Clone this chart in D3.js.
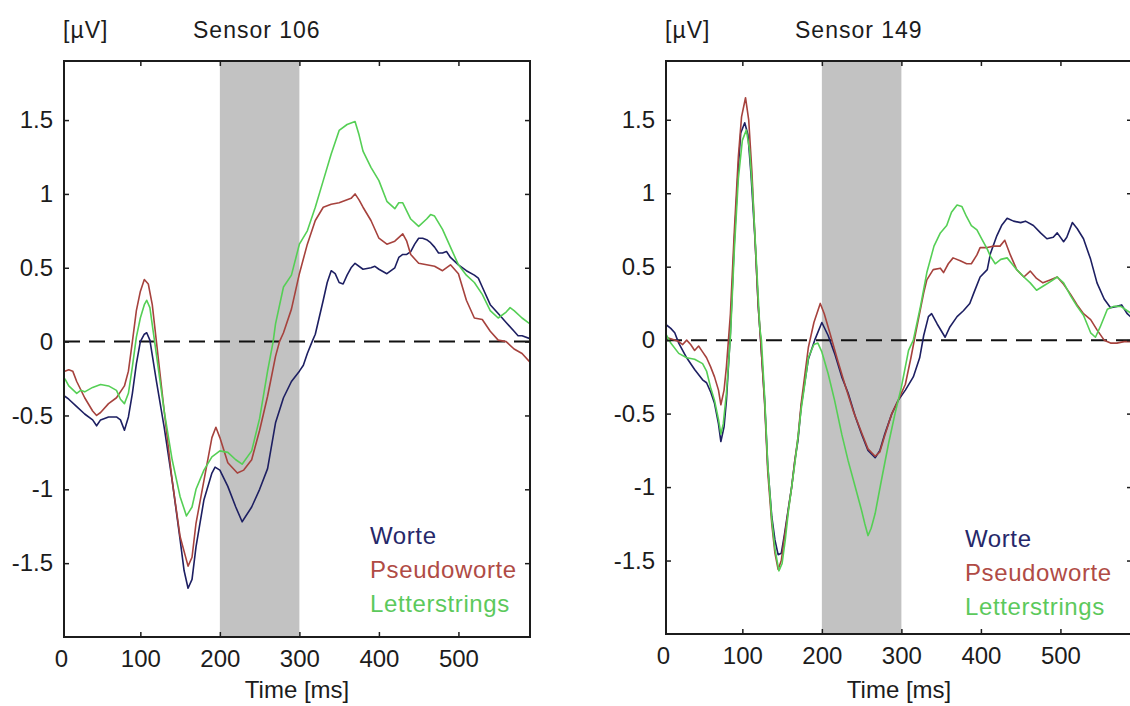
<!DOCTYPE html>
<html>
<head>
<meta charset="utf-8">
<script src="https://cdnjs.cloudflare.com/ajax/libs/d3/7.8.5/d3.min.js"></script>
<style>
  body { margin: 0; background: #fff; }
  svg { display: block; font-family: "Liberation Sans", Arial, sans-serif; }
</style>
</head>
<body>
<div id="chart"></div>
<script>
// tick labels and the shaded time window (ms)
var xTicks = [0, 100, 200, 300, 400, 500];
var yTicks = [-1.5, -1, -0.5, 0, 0.5, 1, 1.5];
var shadeWindow = [200, 300];
var conditions = ["Worte", "Pseudoworte", "Letterstrings"];

// Sensor 106: [time ms, amplitude µV]
var worte106 = [[5,-0.37],[10,-0.39],[20,-0.44],[30,-0.49],[40,-0.53],[45,-0.57],[50,-0.53],[60,-0.51],[70,-0.51],[75,-0.53],[80,-0.6],[85,-0.51],[90,-0.35],[95,-0.15],[100,0.0],[105,0.05],[108,0.06],[112,0.01],[120,-0.26],[130,-0.58],[140,-0.94],[150,-1.34],[155,-1.55],[160,-1.67],[165,-1.61],[170,-1.39],[180,-1.07],[190,-0.89],[194,-0.85],[200,-0.87],[210,-0.98],[220,-1.12],[228,-1.22],[240,-1.12],[250,-1.0],[260,-0.86],[270,-0.55],[280,-0.38],[290,-0.27],[300,-0.2],[305,-0.16],[310,-0.08],[316,0.0],[320,0.05],[330,0.28],[335,0.4],[340,0.48],[345,0.46],[350,0.4],[355,0.39],[360,0.45],[365,0.5],[370,0.53],[380,0.49],[390,0.5],[395,0.51],[400,0.49],[410,0.46],[420,0.5],[425,0.57],[430,0.59],[435,0.59],[440,0.61],[445,0.66],[450,0.7],[455,0.7],[460,0.69],[465,0.67],[470,0.64],[475,0.6],[480,0.6],[485,0.61],[490,0.57],[500,0.52],[510,0.48],[520,0.45],[525,0.43],[530,0.37],[540,0.25],[550,0.19],[560,0.13],[570,0.07],[575,0.04],[580,0.04],[590,0.02]];
var pseudo106 = [[5,-0.2],[10,-0.19],[15,-0.2],[20,-0.27],[30,-0.38],[40,-0.47],[45,-0.5],[50,-0.48],[60,-0.42],[70,-0.38],[80,-0.3],[85,-0.2],[90,0.0],[95,0.21],[100,0.34],[105,0.42],[110,0.39],[115,0.25],[120,0.01],[130,-0.47],[140,-0.94],[150,-1.32],[160,-1.52],[165,-1.46],[170,-1.23],[180,-0.94],[190,-0.65],[195,-0.58],[200,-0.65],[210,-0.82],[222,-0.89],[230,-0.87],[240,-0.8],[250,-0.6],[260,-0.37],[270,-0.1],[275,0.0],[280,0.06],[290,0.22],[300,0.46],[310,0.66],[320,0.82],[330,0.91],[340,0.93],[350,0.94],[360,0.96],[365,0.97],[370,1.0],[375,0.96],[380,0.91],[390,0.82],[400,0.7],[410,0.66],[420,0.68],[430,0.73],[435,0.68],[440,0.59],[450,0.53],[460,0.52],[470,0.51],[480,0.48],[490,0.52],[500,0.46],[510,0.28],[520,0.16],[530,0.15],[540,0.07],[550,0.01],[560,0.0],[570,-0.05],[580,-0.08],[590,-0.14]];
var letter106 = [[5,-0.25],[10,-0.3],[20,-0.35],[25,-0.33],[30,-0.34],[40,-0.31],[50,-0.29],[60,-0.3],[70,-0.33],[75,-0.39],[80,-0.42],[85,-0.35],[90,-0.17],[95,0.03],[100,0.16],[105,0.25],[108,0.28],[112,0.23],[120,-0.08],[130,-0.47],[140,-0.8],[150,-1.05],[158,-1.18],[165,-1.12],[170,-1.0],[180,-0.87],[190,-0.78],[200,-0.74],[210,-0.75],[220,-0.8],[228,-0.83],[240,-0.74],[250,-0.52],[260,-0.2],[267,0.0],[270,0.12],[280,0.37],[290,0.45],[300,0.66],[310,0.75],[320,0.91],[330,1.09],[340,1.27],[350,1.43],[360,1.47],[370,1.49],[375,1.4],[380,1.29],[390,1.18],[400,1.09],[410,0.95],[420,0.9],[425,0.94],[430,0.94],[440,0.83],[450,0.78],[460,0.83],[465,0.86],[470,0.85],[480,0.76],[490,0.64],[500,0.52],[510,0.45],[520,0.4],[530,0.32],[540,0.21],[550,0.16],[560,0.2],[565,0.23],[570,0.21],[580,0.16],[590,0.12]];

// Sensor 149
var worte149 = [[3,0.11],[10,0.08],[15,0.05],[20,-0.02],[30,-0.12],[40,-0.2],[50,-0.27],[55,-0.29],[60,-0.35],[65,-0.43],[70,-0.57],[73,-0.69],[77,-0.59],[80,-0.41],[85,0.05],[90,0.68],[95,1.18],[98,1.41],[103,1.48],[107,1.4],[111,1.12],[116,0.68],[120,0.23],[123,0.0],[128,-0.41],[132,-0.86],[137,-1.2],[141,-1.36],[145,-1.46],[149,-1.45],[153,-1.32],[158,-1.14],[162,-1.0],[166,-0.82],[170,-0.68],[174,-0.45],[179,-0.27],[183,-0.13],[191,0.0],[200,0.12],[208,0.03],[216,-0.09],[225,-0.25],[233,-0.36],[242,-0.52],[250,-0.64],[258,-0.75],[267,-0.8],[273,-0.75],[279,-0.64],[288,-0.5],[296,-0.41],[305,-0.34],[315,-0.25],[323,-0.12],[328,0.03],[334,0.16],[338,0.18],[345,0.11],[355,0.02],[361,0.09],[370,0.16],[378,0.2],[386,0.25],[391,0.32],[399,0.43],[408,0.48],[412,0.59],[420,0.71],[426,0.78],[433,0.83],[441,0.81],[450,0.8],[456,0.81],[466,0.78],[475,0.73],[483,0.69],[491,0.7],[496,0.73],[504,0.67],[508,0.7],[515,0.8],[521,0.76],[529,0.69],[538,0.55],[546,0.39],[555,0.28],[563,0.22],[571,0.23],[577,0.24],[584,0.18],[590,0.15]];
var pseudo149 = [[3,0.02],[10,0.01],[20,-0.01],[25,-0.03],[30,0.0],[35,-0.03],[40,-0.07],[45,-0.04],[50,-0.08],[55,-0.12],[60,-0.18],[65,-0.25],[70,-0.34],[73,-0.44],[77,-0.34],[80,-0.18],[85,0.18],[90,0.75],[95,1.25],[99,1.52],[104,1.65],[108,1.5],[112,1.15],[116,0.68],[120,0.23],[123,0.0],[128,-0.43],[132,-0.9],[137,-1.25],[141,-1.45],[145,-1.56],[149,-1.5],[153,-1.34],[158,-1.15],[162,-1.0],[166,-0.82],[170,-0.66],[174,-0.43],[179,-0.22],[183,-0.05],[190,0.12],[198,0.25],[203,0.18],[210,0.05],[220,-0.14],[230,-0.32],[240,-0.49],[250,-0.63],[258,-0.74],[267,-0.79],[273,-0.76],[279,-0.65],[288,-0.5],[296,-0.41],[305,-0.3],[312,-0.12],[318,0.05],[328,0.32],[332,0.41],[340,0.48],[349,0.49],[353,0.46],[359,0.52],[365,0.56],[374,0.54],[382,0.52],[388,0.52],[395,0.58],[399,0.63],[408,0.63],[416,0.64],[424,0.64],[430,0.68],[437,0.58],[445,0.48],[454,0.43],[462,0.47],[470,0.42],[478,0.39],[487,0.41],[496,0.43],[504,0.38],[513,0.31],[521,0.24],[529,0.18],[538,0.14],[546,0.07],[555,0.0],[563,-0.02],[571,-0.02],[580,-0.01],[590,-0.01]];
var letter149 = [[3,0.05],[10,-0.02],[20,-0.09],[30,-0.12],[40,-0.13],[50,-0.16],[55,-0.21],[60,-0.32],[65,-0.41],[70,-0.54],[73,-0.64],[76,-0.57],[80,-0.36],[85,0.02],[90,0.62],[95,1.1],[100,1.36],[105,1.43],[109,1.3],[113,1.0],[118,0.5],[122,0.08],[124,0.0],[128,-0.38],[132,-0.85],[137,-1.22],[141,-1.42],[146,-1.57],[150,-1.52],[154,-1.36],[158,-1.16],[162,-1.0],[166,-0.84],[170,-0.66],[174,-0.47],[179,-0.28],[183,-0.12],[190,-0.03],[195,-0.02],[200,-0.08],[208,-0.23],[216,-0.41],[225,-0.64],[233,-0.82],[242,-1.0],[250,-1.16],[254,-1.25],[258,-1.33],[262,-1.28],[267,-1.18],[275,-0.95],[284,-0.7],[292,-0.5],[300,-0.32],[309,-0.07],[315,0.0],[324,0.23],[332,0.46],[341,0.64],[349,0.73],[357,0.78],[363,0.87],[370,0.92],[376,0.91],[382,0.84],[388,0.78],[395,0.75],[401,0.69],[408,0.62],[412,0.57],[418,0.52],[425,0.55],[433,0.56],[439,0.52],[445,0.48],[454,0.43],[462,0.39],[470,0.34],[479,0.37],[488,0.4],[496,0.43],[504,0.39],[513,0.3],[521,0.23],[529,0.17],[538,0.05],[544,0.02],[550,0.09],[559,0.21],[567,0.23],[576,0.23],[584,0.2],[590,0.18]];

var lineColors = ["#1d1f62", "#a6423d", "#55cf55"];
var textColors = ["#26286a", "#b04b45", "#5cc95c"];

var svgWidth = 1130;
var svgHeight = 706;

var panels = [
  { id: "p106", title: "Sensor 106", series: [worte106, pseudo106, letter106],
    x0: 64, x1: 530, y0: 61, y1: 637, legendX: 370, legendY: 544 },
  { id: "p149", title: "Sensor 149", series: [worte149, pseudo149, letter149],
    x0: 666, x1: 1132, y0: 61, y1: 634, legendX: 965, legendY: 547 }
];

var svg = d3.select("#chart")
  .append("svg")
  .attr("width", svgWidth)
  .attr("height", svgHeight);

var ink = "#1c1c1c";

panels.forEach(function(p) {
  var x = d3.scaleLinear().domain([4, 590]).range([p.x0, p.x1]);
  var y = d3.scaleLinear().domain([-2, 1.9]).range([p.y1, p.y0]);
  var g = svg.append("g");

  g.append("clipPath").attr("id", "clip-" + p.id)
    .append("rect")
    .attr("x", p.x0).attr("y", p.y0)
    .attr("width", p.x1 - p.x0).attr("height", p.y1 - p.y0);

  // shaded 200-300 ms window
  g.append("rect")
    .attr("x", x(shadeWindow[0]))
    .attr("y", p.y0)
    .attr("width", x(shadeWindow[1]) - x(shadeWindow[0]))
    .attr("height", p.y1 - p.y0)
    .attr("fill", "#c2c2c2");

  // zero line
  g.append("line")
    .attr("x1", p.x0).attr("x2", p.x1)
    .attr("y1", y(0)).attr("y2", y(0))
    .attr("stroke", "#111")
    .attr("stroke-width", 2)
    .attr("stroke-dasharray", "16,9");

  var line = d3.line()
    .x(d => x(d[0]))
    .y(d => y(d[1]));

  g.append("g")
    .attr("clip-path", "url(#clip-" + p.id + ")")
    .selectAll("path")
    .data(p.series)
    .enter()
    .append("path")
    .attr("d", line)
    .attr("fill", "none")
    .attr("stroke", (d, i) => lineColors[i])
    .attr("stroke-width", 1.6)
    .attr("stroke-linejoin", "round");

  // axes, ticks pointing inward like matlab
  var inside = xTicks.filter(t => t >= 4 && t <= 590);

  var bottom = g.append("g")
    .attr("transform", `translate(0, ${p.y1})`)
    .call(d3.axisBottom(x).tickValues(xTicks).tickSize(-5).tickPadding(13));
  bottom.selectAll(".tick line").filter(d => d < 4).remove();

  g.append("g")
    .attr("transform", `translate(0, ${p.y0})`)
    .call(d3.axisTop(x).tickValues(inside).tickSize(-5).tickFormat(""));

  g.append("g")
    .attr("transform", `translate(${p.x0}, 0)`)
    .call(d3.axisLeft(y).tickValues(yTicks).tickSize(-5).tickPadding(11)
      .tickFormat(d => String(d)));

  g.append("g")
    .attr("transform", `translate(${p.x1}, 0)`)
    .call(d3.axisRight(y).tickValues(yTicks).tickSize(-5).tickFormat(""));

  g.selectAll(".domain").remove();
  g.selectAll(".tick line").attr("stroke", ink).attr("stroke-width", 1.5);
  g.selectAll(".tick text")
    .attr("fill", ink)
    .style("font-size", "24px")
    .style("font-family", '"Liberation Sans", Arial, sans-serif');

  // box
  g.append("rect")
    .attr("x", p.x0).attr("y", p.y0)
    .attr("width", p.x1 - p.x0).attr("height", p.y1 - p.y0)
    .attr("fill", "none")
    .attr("stroke", ink)
    .attr("stroke-width", 2);

  // labels
  g.append("text")
    .attr("x", p.x0 - 1).attr("y", 38)
    .attr("fill", ink)
    .style("font-size", "23px")
    .style("letter-spacing", "1px")
    .text("[µV]");

  g.append("text")
    .attr("x", p.x0 + 129).attr("y", 38)
    .attr("fill", ink)
    .style("font-size", "23px")
    .style("letter-spacing", "1px")
    .text(p.title);

  g.append("text")
    .attr("x", (p.x0 + p.x1) / 2).attr("y", 698)
    .attr("text-anchor", "middle")
    .attr("fill", ink)
    .style("font-size", "24px")
    .text("Time [ms]");

  g.selectAll(".legend")
    .data(conditions)
    .enter()
    .append("text")
    .attr("class", "legend")
    .attr("x", p.legendX)
    .attr("y", (d, i) => p.legendY + i * 34)
    .attr("fill", (d, i) => textColors[i])
    .style("font-size", "24px")
    .style("letter-spacing", "0.6px")
    .text(d => d);
});
</script>
</body>
</html>
